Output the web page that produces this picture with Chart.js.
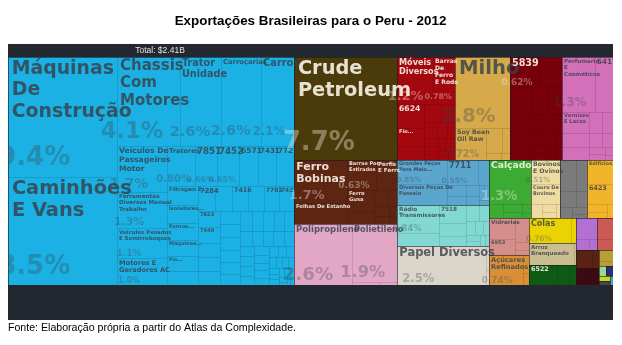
<!DOCTYPE html>
<html>
<head>
<meta charset="utf-8">
<script src="https://cdn.jsdelivr.net/npm/chart.js@4.4.1/dist/chart.umd.min.js"></script>
<style>
html,body{margin:0;padding:0;background:#ffffff;}
#wrap{width:622px;height:345px;}
</style>
</head>
<body>
<div id="wrap"><canvas id="c" width="622" height="345"></canvas></div>
<script>
// ---------------- DATA (shares of total exports, %) ----------------
const TITLE = 'Exportações Brasileiras para o Peru - 2012';
const SOURCE = 'Fonte: Elaboração própria a partir do Atlas da Complexidade.';
const TOTAL_LABEL = 'Total: $2.41B';

const vehicleLabels = ['Máquinas De Construção','Caminhões E Vans','Chassis Com Motores','Trator Unidade','Carroçarias','Carros',
  'Veículos De Passageiros Motor','Ferramentas Diversas Manual Trabalho','Veículos Pesados E Semirreboques','Motores E Geradores AC',
  'Tratores','7851','7452','6571','7431','7721','Filtragem E Purificação','Isoladores Elétricos','Fornos Industriais','Máquinas De Lavar',
  'Fio De Ferro','Máquinas Agrícolas','7284','Válvulas','7416','Rolamentos','7783','7422','7823','7449','7451','6782',
  'Partes De Máquinas','Bombas Para Líquidos','Compressores De Ar','Guindastes Industriais','Empilhadeiras Mecânicas','Escavadoras Diversas',
  'Transformadores Elétricos','Quadros De Comando','Cabos Isolados','Aparelhos De Ar Condicionado','Refrigeradores Industriais',
  'Máquinas Para Embalagem','Misturadores De Concreto','Perfuratrizes','Britadores','Rolos Compressores','Motocicletas','Reboques Agrícolas',
  'Carrocerias De Ônibus','Partes De Tratores','Geradores Elétricos','Baterias Elétricas','Ferramentas Pneumáticas','Balanças Industriais',
  'Filtros De Óleo','Rolamentos De Esferas','Engrenagens','Embreagens','Eixos De Transmissão','Centrífugas','Secadoras Industriais',
  'Máquinas Têxteis','Máquinas Para Papel','Prensas Hidráulicas','Tornos Mecânicos','Fresadoras','Soldadores Elétricos','Lâmpadas Elétricas',
  'Fusíveis','Interruptores','Medidores Elétricos','Motores Marítimos','Elevadores'];
const vehicleValues = [9.4,8.5,4.1,2.6,2.58,2.1,1.7,1.3,1.1,1.0,
  0.80,0.66,0.65,0.55,0.53,0.50,0.42,0.40,0.38,0.35,0.33,0.32,0.31,0.30,0.29,0.28,0.27,0.26,0.25,0.24,0.23,0.22,
  0.21,0.20,0.20,0.19,0.18,0.18,0.17,0.16,0.16,0.15,0.14,0.14,0.13,0.12,0.12,0.12,0.11,0.10,0.10,0.10,
  0.09,0.09,0.08,0.08,0.08,0.07,0.07,0.06,0.06,0.06,0.05,0.05,0.05,0.04,0.04,0.04,0.03,0.03,0.03,0.03,
  0.02,0.02,0.02];

const petroleumLabels = ['Crude Petroleum'];
const petroleumValues = [7.7];

const metalLabels = ['Ferro Bobinas','Folhas De Estanho','Barras Por Estirados','Perfis E Ferro','Ferro Gusa','Ferro Dobrado',
  'Tubos De Aço','Arames De Ferro','Chapas Galvanizadas','Perfis Laminados','Barras De Aço Inox','Fios De Aço'];
const metalValues = [1.7,0.80,0.63,0.47,0.40,0.25,0.15,0.12,0.10,0.08,0.06,0.05];

const plasticLabels = ['Polipropileno','Polietileno','Policloreto De Vinila','Filmes Plásticos'];
const plasticValues = [2.6,1.9,0.06,0.04];

const furnitureLabels = ['Móveis Diversos','Barras De Ferro E Rods','6624','Fio Elétrico','Diversos Artigos',
  'Artigos De Cutelaria','Ferragens Diversas','Fechaduras','Molas De Ferro','Correntes De Ferro','Parafusos De Ferro','Pregos E Grampos',
  'Telas Metálicas','Recipientes De Ferro','Tubos De Ferro','Utensílios Domésticos','Artigos Sanitários','Caixas De Ferro',
  'Estruturas Metálicas','Fogões Domésticos'];
const furnitureValues = [1.2,0.78,0.45,0.35,0.28,0.22,0.18,0.15,0.12,0.10,0.09,0.08,0.07,0.06,0.05,0.05,0.04,0.03,0.03,0.02];

const agriLabels = ['Milho','Soy Bean Oil Raw','Cevada E Malte','Farinhas De Trigo','Sementes Diversas','Feijões Secos'];
const agriValues = [2.8,0.72,0.30,0.15,0.08,0.05];

const darkRedLabels = ['5839','Tecidos Sintéticos','Filamentos De Poliéster','Fibras Acrílicas','Tecidos De Algodão','Malhas Diversas',
  'Filamentos De Nylon','Tecidos Técnicos','Feltros Diversos','Tapetes Diversos','Cordas E Cabos','Redes De Pesca','Tecidos Elásticos',
  'Rendas Diversas','Bordados Diversos','Etiquetas Têxteis','Fitas Tecidas','Linhas De Costura','Tecidos Revestidos','Não Tecidos'];
const darkRedValues = [0.62,0.50,0.43,0.30,0.28,0.25,0.22,0.20,0.17,0.15,0.13,0.12,0.10,0.09,0.08,0.07,0.06,0.05,0.04,0.03];

const chemLabels = ['Perfumaria E Cosméticos','5417','Vernizes E Lacas','5542','5821','Medicamentos Diversos','Produtos De Limpeza',
  'Inseticidas','Pigmentos','Tintas De Impressão','Adesivos','Catalisadores','Reagentes'];
const chemValues = [1.3,0.72,0.40,0.28,0.25,0.20,0.16,0.13,0.11,0.09,0.07,0.05,0.03];

const transportLabels = ['Grandes Peças Para Meio Transporte','Diversos Peças De Passeio','7711','Pneus Novos','Rodas De Veículos',
  'Freios E Servofreios','Caixas De Câmbio','Radiadores','Silenciosos','Amortecedores','Volantes'];
const transportValues = [0.85,0.75,0.55,0.20,0.15,0.12,0.10,0.08,0.06,0.05,0.04];

const electronicLabels = ['Rádio Transmissores','7415','7518','Eletrônicos Diversos','Telefones Celulares','Equipamentos De Som',
  'Televisores','Antenas','Aparelhos De Rádio','Partes De Telefones','Monitores De Vídeo','Receptores De Rádio','Amplificadores','Alto-Falantes'];
const electronicValues = [0.84,0.40,0.35,0.25,0.20,0.15,0.12,0.10,0.08,0.07,0.06,0.05,0.04,0.03];

const paperLabels = ['Papel Diversos','Papel Jornal','Papelão Ondulado'];
const paperValues = [2.5,0.05,0.03];

const shoeLabels = ['Calçados','Solados De Borracha','Calçados De Couro','Calçados Esportivos','Partes De Calçados','Sandálias'];
const shoeValues = [1.3,0.15,0.12,0.08,0.06,0.03];

const hideLabels = ['Bovinos E Ovinos','Couro De Bovinos','Peles Ovinas','Couro Curtido','Couros Caprinos','Aparas De Couro'];
const hideValues = [0.51,0.42,0.12,0.08,0.06,0.04];

const stoneLabels = ['Cimento Portland','Cal Hidratada','Gesso Calcinado','Mármore Polido','Granito Bruto','Tijolos Refratários','Pedras Diversas'];
const stoneValues = [0.35,0.25,0.18,0.12,0.10,0.07,0.05];

const buildingLabels = ['Edifícios Pré-Fabricados','6423','Portas De Madeira','Janelas Metálicas','Divisórias'];
const buildingValues = [0.45,0.37,0.12,0.10,0.06];

const glassLabels = ['Vidrarias','6953','Louças Cerâmicas','Espelhos De Vidro','Vidros De Segurança'];
const glassValues = [0.38,0.30,0.25,0.08,0.05];

const sugarLabels = ['Açúcares Refinados','Confeitos De Açúcar','Chocolates'];
const sugarValues = [0.74,0.08,0.05];

const glueLabels = ['Colas','Gelatinas Técnicas'];
const glueValues = [0.76,0.10];

const riceLabels = ['Arroz Branqueado','Arroz Quebrado'];
const riceValues = [0.70,0.04];

const textileLabels = ['6522','Tecidos De Linho','Tecidos De Seda'];
const textileValues = [0.40,0.18,0.10];

const inorganicLabels = ['Óxidos Metálicos','Sais Inorgânicos','Carbonatos'];
const inorganicValues = [0.30,0.10,0.06];

const toyLabels = ['Brinquedos Diversos','Jogos De Salão'];
const toyValues = [0.25,0.12];

const oreLabels = ['Minérios De Zinco','Minérios De Chumbo'];
const oreValues = [0.20,0.09];

const woodLabels = ['Madeira Compensada','Painéis De Madeira'];
const woodValues = [0.18,0.10];

const miscLabels = ['Artigos De Plástico','Embalagens Plásticas'];
const miscValues = [0.12,0.05];

const fruitLabels = ['Frutas Frescas']; const fruitValues = [0.06];
const instrLabels = ['Instrumentos De Medida']; const instrValues = [0.05];
const vegLabels = ['Legumes Secos']; const vegValues = [0.04];
const armsLabels = ['Armas Diversas']; const armsValues = [0.03];
const mineralLabels = ['Abrasivos Naturais']; const mineralValues = [0.02];

// ---------------- STYLE ----------------
const groups = [
  { labels: vehicleLabels,    values: vehicleValues,    color: '#1cb1e4' },
  { labels: petroleumLabels,  values: petroleumValues,  color: '#4b3b0b' },
  { labels: metalLabels,      values: metalValues,      color: '#5d2512' },
  { labels: plasticLabels,    values: plasticValues,    color: '#e3a7c6' },
  { labels: furnitureLabels,  values: furnitureValues,  color: '#a3080f' },
  { labels: agriLabels,       values: agriValues,       color: '#d6a94a' },
  { labels: darkRedLabels,    values: darkRedValues,    color: '#78000a' },
  { labels: chemLabels,       values: chemValues,       color: '#d46fb9' },
  { labels: transportLabels,  values: transportValues,  color: '#5aa6cf' },
  { labels: electronicLabels, values: electronicValues, color: '#82d9d3' },
  { labels: paperLabels,      values: paperValues,      color: '#dcd6ca' },
  { labels: shoeLabels,       values: shoeValues,       color: '#3cab33' },
  { labels: hideLabels,       values: hideValues,       color: '#efdca0' },
  { labels: stoneLabels,      values: stoneValues,      color: '#7b7b7b' },
  { labels: buildingLabels,   values: buildingValues,   color: '#f1b42b' },
  { labels: glassLabels,      values: glassValues,      color: '#d48f8a' },
  { labels: sugarLabels,      values: sugarValues,      color: '#d98f36' },
  { labels: glueLabels,       values: glueValues,       color: '#ebd203' },
  { labels: riceLabels,       values: riceValues,       color: '#cbbd8f' },
  { labels: textileLabels,    values: textileValues,    color: '#0f5b13' },
  { labels: inorganicLabels,  values: inorganicValues,  color: '#b370d3' },
  { labels: toyLabels,        values: toyValues,        color: '#cb5a55' },
  { labels: oreLabels,        values: oreValues,        color: '#5a2212' },
  { labels: woodLabels,       values: woodValues,       color: '#3d0a12' },
  { labels: miscLabels,       values: miscValues,       color: '#b99e35' },
  { labels: fruitLabels,      values: fruitValues,      color: '#9bd98f' },
  { labels: instrLabels,      values: instrValues,      color: '#2b2d7a' },
  { labels: vegLabels,        values: vegValues,        color: '#c2dc1c' },
  { labels: armsLabels,       values: armsValues,       color: '#3f474f' },
  { labels: mineralLabels,    values: mineralValues,    color: '#4ea3b8' }
];

const TM_W = 605, TM_H = 228;      // treemap extent in scale units
const PANEL_BG = '#232830';
const FONT = '"DejaVu Sans", Verdana, sans-serif';

// ---------------- squarified layout (d3 algorithm) ----------------
function squarify(nodes, x0, y0, x1, y1) {
  const ratio = (1 + Math.sqrt(5)) / 2;
  let value = nodes.reduce((s, n) => s + n.value, 0);
  let i0 = 0, i1 = 0;
  const n = nodes.length;
  while (i0 < n) {
    const dx = x1 - x0, dy = y1 - y0;
    let sumValue = nodes[i1++].value;
    let minValue = sumValue, maxValue = sumValue;
    const alpha = Math.max(dy / dx, dx / dy) / (value * ratio);
    let beta = sumValue * sumValue * alpha;
    let minRatio = Math.max(maxValue / beta, beta / minValue);
    for (; i1 < n; ++i1) {
      const nv = nodes[i1].value;
      sumValue += nv;
      if (nv < minValue) minValue = nv;
      if (nv > maxValue) maxValue = nv;
      beta = sumValue * sumValue * alpha;
      const newRatio = Math.max(maxValue / beta, beta / minValue);
      if (newRatio > minRatio) { sumValue -= nv; break; }
      minRatio = newRatio;
    }
    const row = nodes.slice(i0, i1);
    if (dx < dy) {
      const yb = value ? y0 + dy * sumValue / value : y1;
      let x = x0; const k = (x1 - x0) / sumValue;
      row.forEach(nd => { nd.x0 = x; x += nd.value * k; nd.x1 = x; nd.y0 = y0; nd.y1 = yb; });
      y0 = yb;
    } else {
      const xb = value ? x0 + dx * sumValue / value : x1;
      let y = y0; const k = (y1 - y0) / sumValue;
      row.forEach(nd => { nd.y0 = y; y += nd.value * k; nd.y1 = y; nd.x0 = x0; nd.x1 = xb; });
      x0 = xb;
    }
    value -= sumValue; i0 = i1;
  }
}

function buildLayout() {
  const gNodes = groups.map(g => {
    const items = g.labels.map((l, i) => ({ label: l, value: g.values[i] })).sort((a, b) => b.value - a.value);
    return { g, items, value: items.reduce((s, it) => s + it.value, 0) };
  }).sort((a, b) => b.value - a.value);
  squarify(gNodes, 0, 0, TM_W, TM_H);
  gNodes.forEach(gn => squarify(gn.items, gn.x0, gn.y0, gn.x1, gn.y1));
  return gNodes;
}
const LAYOUT = buildLayout();

function isDark(hex) {
  const r = parseInt(hex.substr(1, 2), 16), g = parseInt(hex.substr(3, 2), 16), b = parseInt(hex.substr(5, 2), 16);
  return (0.299 * r + 0.587 * g + 0.114 * b) / 255 < 0.5;
}

function wrapWords(ctx, words, maxW) {
  const lines = []; let cur = '';
  for (const w of words) {
    const t = cur ? cur + ' ' + w : w;
    if (!cur || ctx.measureText(t).width <= maxW) cur = t; else { lines.push(cur); cur = w; }
  }
  if (cur) lines.push(cur);
  return lines;
}

function fitLabel(ctx, text, w, h) {
  if (w < 10 || h < 8) return null;
  const words = text.split(' ');
  ctx.font = 'bold 10px ' + FONT;
  const longest = Math.max(...words.map(t => ctx.measureText(t).width)) / 10;
  let fs = Math.min(22, h * 0.32, (w * 1.1) / longest);
  if (fs < 5) {
    const short = words[0] + '...';
    const fsF = Math.min(h * 0.32, (w * 1.1) / (ctx.measureText(short).width / 10));
    if (words.length > 1 && fsF >= 4.8) return { fs: Math.min(fsF, 7), lines: [short] };
    return null;
  }
  let lines;
  for (;;) {
    ctx.font = 'bold ' + fs + 'px ' + FONT;
    lines = wrapWords(ctx, words, w * 1.1);
    if (lines.length * fs * 1.15 <= h * 0.6 || fs <= 5) break;
    fs = Math.max(5, fs - 0.5);
  }
  const maxLines = Math.max(1, Math.floor((h * 0.6) / (fs * 1.15)));
  if (lines.length > maxLines) { lines = lines.slice(0, maxLines); lines[maxLines - 1] += '...'; }
  return { fs, lines };
}

const treemapPlugin = {
  id: 'treemapCells',
  beforeDatasetsDraw(chart) {
    const { ctx, chartArea: a } = chart;
    const xs = chart.scales.x, ys = chart.scales.y;
    const px = v => Math.round(xs.getPixelForValue(v));
    const py = v => Math.round(ys.getPixelForValue(v));
    ctx.save();
    ctx.fillStyle = PANEL_BG;
    ctx.fillRect(a.left, a.top, a.right - a.left, a.bottom - a.top);

    ctx.fillStyle = '#e4e4e4';
    ctx.font = '8.5px "Liberation Sans", Arial, sans-serif';
    ctx.textAlign = 'center'; ctx.textBaseline = 'middle';
    ctx.fillText(TOTAL_LABEL, xs.getPixelForValue(152), ys.getPixelForValue(-6.5));

    LAYOUT.forEach(gn => {
      gn.items.forEach(it => {
        const x0 = px(it.x0), x1 = px(it.x1), y0 = py(it.y0), y1 = py(it.y1);
        it.px = { x0, x1, y0, y1 };
        ctx.fillStyle = gn.g.color;
        ctx.fillRect(x0, y0, x1 - x0, y1 - y0);
        ctx.fillStyle = 'rgba(0,0,0,0.11)';
        ctx.fillRect(x0, y0, x1 - x0, 1);
        ctx.fillRect(x0, y0, 1, y1 - y0);
      });
    });
    LAYOUT.forEach(gn => {
      const x0 = px(gn.x0), x1 = px(gn.x1), y0 = py(gn.y0), y1 = py(gn.y1);
      ctx.fillStyle = 'rgba(25,30,38,0.55)';
      ctx.fillRect(x0, y0, x1 - x0, 1);
      ctx.fillRect(x0, y0, 1, y1 - y0);
    });

    const tl = px(0), tr = px(TM_W), tt = py(0), tb = py(TM_H);
    ctx.beginPath(); ctx.rect(tl, tt, tr - tl, tb - tt); ctx.clip();

    LAYOUT.forEach(gn => {
      const dark = isDark(gn.g.color);
      const pctColor = dark ? 'rgba(245,240,228,0.38)' : 'rgba(55,65,75,0.32)';
      gn.items.forEach(it => {
        const { x0, x1, y0, y1 } = it.px;
        const w = x1 - x0, h = y1 - y0;
        const pfs = Math.min(26, w * 0.36, h * 0.3);
        if (it.value > 0.505 && w >= 20 && h >= 24 && pfs >= 6) {
          ctx.font = 'bold ' + pfs + 'px ' + FONT;
          ctx.fillStyle = pctColor;
          ctx.textAlign = 'center'; ctx.textBaseline = 'middle';
          ctx.fillText(it.value.toPrecision(2) + '%', x0 + w * 0.24, y0 + h * 0.84);
        }
      });
    });

    LAYOUT.forEach(gn => {
      const dark = isDark(gn.g.color);
      const lblColor = dark ? 'rgba(245,240,228,0.92)' : 'rgba(55,65,75,0.82)';
      gn.items.forEach(it => {
        const { x0, x1, y0, y1 } = it.px;
        const w = x1 - x0, h = y1 - y0;
        const fit = fitLabel(ctx, it.label, w, h);
        if (!fit) return;
        const padX = Math.max(2, Math.min(4, fit.fs * 0.2));
        const padY = Math.max(1.5, Math.min(3, fit.fs * 0.12));
        ctx.font = 'bold ' + fit.fs + 'px ' + FONT;
        ctx.fillStyle = lblColor;
        ctx.textAlign = 'left'; ctx.textBaseline = 'top';
        fit.lines.forEach((ln, i) => ctx.fillText(ln, x0 + padX, y0 + padY + i * fit.fs * 1.15));
      });
    });
    ctx.restore();
  }
};

new Chart(document.getElementById('c'), {
  type: 'scatter',
  data: { datasets: [] },
  options: {
    responsive: false,
    animation: false,
    devicePixelRatio: 1,
    layout: { padding: { left: 8, right: 9, top: 0, bottom: 0 } },
    scales: {
      x: { type: 'linear', display: false, min: 0, max: TM_W, bounds: 'data' },
      y: { type: 'linear', display: false, min: -13, max: 263, reverse: true, bounds: 'data' }
    },
    plugins: {
      legend: { display: false },
      tooltip: { enabled: false },
      title: {
        display: true, text: TITLE, color: '#000000',
        font: { family: '"Liberation Sans", Arial, sans-serif', size: 13.4, weight: 'bold' },
        padding: { top: 13, bottom: 14.9 }
      },
      subtitle: {
        display: true, text: SOURCE, position: 'bottom', align: 'start', color: '#000000',
        font: { family: '"Liberation Sans", Arial, sans-serif', size: 10.6, weight: 'normal' },
        padding: { top: 2, bottom: 10.3 }
      }
    }
  },
  plugins: [treemapPlugin]
});
</script>
</body>
</html>
